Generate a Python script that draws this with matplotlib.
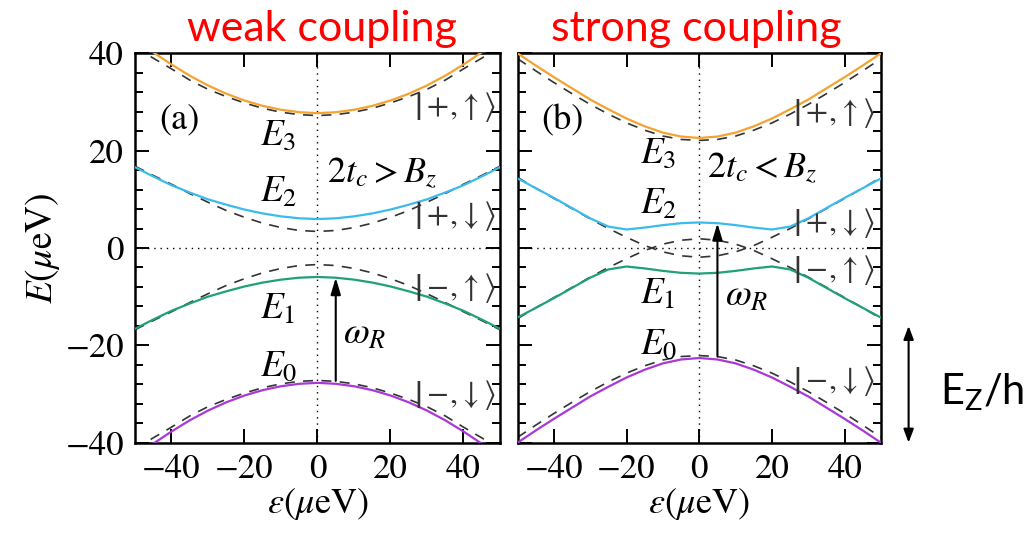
import numpy as np
import matplotlib.pyplot as plt

plt.rcParams['font.family'] = 'STIXGeneral'
plt.rcParams['mathtext.fontset'] = 'stix'

# detuning grid (micro eV)
eps = [-50, -45, -40, -35, -30, -25, -20, -15, -10, -5, 0,
       5, 10, 15, 20, 25, 30, 35, 40, 45, 50]

# (a) weak coupling, 2tc > Bz
E3_a = [42.7, 40.2, 37.7, 35.4, 33.4, 31.7, 30.3, 29.2, 28.4, 27.9, 27.7,
        27.9, 28.4, 29.2, 30.3, 31.7, 33.4, 35.4, 37.7, 40.2, 42.7]
E2_a = [16.6, 14.7, 12.9, 11.4, 10.0, 8.9, 7.9, 7.1, 6.5, 6.1, 5.95,
        6.1, 6.5, 7.1, 7.9, 8.9, 10.0, 11.4, 12.9, 14.7, 16.6]
E1_a = [-16.6, -14.7, -12.9, -11.4, -10.0, -8.9, -7.9, -7.1, -6.5, -6.1, -5.95,
        -6.1, -6.5, -7.1, -7.9, -8.9, -10.0, -11.4, -12.9, -14.7, -16.6]
E0_a = [-42.7, -40.2, -37.7, -35.4, -33.4, -31.7, -30.3, -29.2, -28.4, -27.9, -27.7,
        -27.9, -28.4, -29.2, -30.3, -31.7, -33.4, -35.4, -37.7, -40.2, -42.7]
# uncoupled levels
U_pu_a = [41.3, 39.0, 36.8, 34.5, 32.6, 31.1, 29.8, 28.7, 27.9, 27.4, 27.2,
          27.4, 27.9, 28.7, 29.8, 31.1, 32.6, 34.5, 36.8, 39.0, 41.3]
U_pd_a = [16.8, 14.9, 13.1, 11.2, 9.4, 7.7, 6.3, 5.1, 4.2, 3.6, 3.4,
          3.6, 4.2, 5.1, 6.3, 7.7, 9.4, 11.2, 13.1, 14.9, 16.8]
U_mu_a = [-16.8, -14.9, -13.1, -11.2, -9.4, -7.7, -6.3, -5.1, -4.2, -3.6, -3.4,
          -3.6, -4.2, -5.1, -6.3, -7.7, -9.4, -11.2, -13.1, -14.9, -16.8]
U_md_a = [-41.3, -39.0, -36.8, -34.5, -32.6, -31.1, -29.8, -28.7, -27.9, -27.4, -27.2,
          -27.4, -27.9, -28.7, -29.8, -31.1, -32.6, -34.5, -36.8, -39.0, -41.3]

# (b) strong coupling, 2tc < Bz
E3_b = [40.0, 37.5, 35.1, 32.8, 30.5, 28.5, 26.6, 25.0, 23.7, 22.9, 22.6,
        22.9, 23.7, 25.0, 26.6, 28.5, 30.5, 32.8, 35.1, 37.5, 40.0]
E2_b = [14.3, 12.3, 10.3, 8.2, 6.1, 4.4, 3.8, 4.2, 4.7, 5.1, 5.25,
        5.1, 4.7, 4.2, 3.8, 4.4, 6.1, 8.2, 10.3, 12.3, 14.3]
E1_b = [-14.3, -12.3, -10.3, -8.2, -6.1, -4.4, -3.8, -4.2, -4.7, -5.1, -5.25,
        -5.1, -4.7, -4.2, -3.8, -4.4, -6.1, -8.2, -10.3, -12.3, -14.3]
E0_b = [-40.0, -37.5, -35.1, -32.8, -30.5, -28.5, -26.6, -25.0, -23.7, -22.9, -22.6,
        -22.9, -23.7, -25.0, -26.6, -28.5, -30.5, -32.8, -35.1, -37.5, -40.0]
U_pu_b = [38.9, 36.4, 34.0, 31.7, 29.5, 27.5, 25.7, 24.2, 23.0, 22.3, 22.1,
          22.3, 23.0, 24.2, 25.7, 27.5, 29.5, 31.7, 34.0, 36.4, 38.9]
U_pd_b = [14.5, 12.3, 10.2, 8.1, 6.0, 4.0, 2.2, 0.5, -0.8, -1.6, -1.9,
          -1.6, -0.8, 0.5, 2.2, 4.0, 6.0, 8.1, 10.2, 12.3, 14.5]
U_mu_b = [-14.5, -12.3, -10.2, -8.1, -6.0, -4.0, -2.2, -0.5, 0.8, 1.6, 1.9,
          1.6, 0.8, -0.5, -2.2, -4.0, -6.0, -8.1, -10.2, -12.3, -14.5]
U_md_b = [-38.9, -36.4, -34.0, -31.7, -29.5, -27.5, -25.7, -24.2, -23.0, -22.3, -22.1,
          -22.3, -23.0, -24.2, -25.7, -27.5, -29.5, -31.7, -34.0, -36.4, -38.9]

EZ = 24  # Zeeman splitting shown by the side arrow
eps_drive = 5  # where the omega_R arrow sits

colors = ['#a938d8', '#1fa07a', '#3bbbec', '#f5a330']  # E0..E3
kets = [r'$\left|-\!,\!\downarrow\right\rangle$', r'$\left|-\!,\!\uparrow\right\rangle$',
        r'$\left|+\!,\!\downarrow\right\rangle$', r'$\left|+\!,\!\uparrow\right\rangle$']

fig = plt.figure(figsize=(10.25, 5.33), dpi=100)
ax1 = fig.add_axes([0.1317, 0.1694, 0.3561, 0.7306])
ax2 = fig.add_axes([0.5049, 0.1694, 0.3546, 0.7306])

panels = [
    (ax1, [E0_a, E1_a, E2_a, E3_a], [U_md_a, U_mu_a, U_pd_a, U_pu_a], '(a)', r'$2t_c > B_z$',
     [(-15.8, -24.3), (-15.8, -12.7), (-15.8, 11.3), (-15.8, 23.2)],
     [-30.1, -8.2, 6.5, 29.0], 26.4, 2.6, 15.4, (7.0, -17.8), 1),
    (ax2, [E0_b, E1_b, E2_b, E3_b], [U_md_b, U_mu_b, U_pd_b, U_pu_b], '(b)', r'$2t_c < B_z$',
     [(-16.2, -19.8), (-16.2, -9.6), (-16.2, 8.9), (-16.2, 19.5)],
     [-27.4, -4.5, 5.1, 27.7], 25.8, 2.2, 16.4, (7.2, -9.9), 2),
]

for ax, levels, bare, tag, cond, epos, kety, ketx, condx, condy, wpos, top in panels:
    ax.axhline(0, color='k', lw=1.0, ls=(0, (1, 3.5)), zorder=1)
    ax.axvline(0, color='k', lw=1.0, ls=(0, (1, 3.5)), zorder=1)
    for y, c in zip(levels, colors):
        ax.plot(eps, y, color=c, lw=1.6, zorder=3)
    for y in bare:
        ax.plot(eps, y, color='#333333', lw=1.2, ls=(0, (6, 5)), zorder=2)

    ax.text(-37.7, 26.2, tag, fontsize=26, ha='center', va='center')
    for i, (x, y) in enumerate(epos):
        ax.text(x, y, r'$E_{%d}$' % i, fontsize=27, ha='left', va='center')
    ax.text(condx, condy, cond, fontsize=26, ha='left', va='center')
    for k, y in zip(kets, kety):
        ax.text(ketx, y, k, fontsize=23, ha='left', va='center', color='#333333')
    ax.text(wpos[0], wpos[1], r'$\omega_R$', fontsize=27, ha='left', va='center')

    i0 = eps.index(eps_drive)
    ax.annotate('', xy=(eps_drive, levels[top][i0]), xytext=(eps_drive, levels[0][i0] + 0.6),
                arrowprops=dict(arrowstyle='-|>,head_length=1.0,head_width=0.3',
                                color='k', lw=1.5, shrinkA=0, shrinkB=0), zorder=4)

    ax.set_xlim(-50, 50)
    ax.set_ylim(-40, 40)
    ax.set_xticks([-40, -20, 0, 20, 40])
    ax.set_yticks([-40, -20, 0, 20, 40])
    ax.set_yticks(np.arange(-36, 40, 4), minor=True)
    ax.tick_params(which='both', direction='in', top=True, right=True, width=1.4, labelsize=25)
    ax.tick_params(which='major', length=10, pad=8)
    ax.tick_params(which='minor', length=6)
    ax.tick_params(axis='x', which='minor', bottom=False, top=False)
    for s in ax.spines.values():
        s.set_linewidth(1.8)
    ax.set_xlabel(r'$\varepsilon(\mu\mathrm{eV})$', fontsize=26, labelpad=0)

ax1.set_ylabel(r'$E(\mu\mathrm{eV})$', fontsize=27, labelpad=2)
ax2.tick_params(labelleft=False)

fig.text(0.314, 0.945, 'weak coupling', color='#ff0000', fontsize=31,
         family='Lato', ha='center', va='center')
fig.text(0.679, 0.945, 'strong coupling', color='#ff0000', fontsize=31,
         family='Lato', ha='center', va='center')

# Zeeman splitting arrow beside panel (b)
ax2.annotate('', xy=(57.6, -40 + EZ), xytext=(57.6, -40),
             arrowprops=dict(arrowstyle='<|-|>,head_length=0.8,head_width=0.3',
                             color='k', lw=1.5, shrinkA=0, shrinkB=0),
             annotation_clip=False)
fig.text(0.958, 0.265, r'$\mathregular{E_Z/h}$', fontsize=30, family='Lato',
         ha='center', va='center')

fig.savefig('out.png', dpi=100)
